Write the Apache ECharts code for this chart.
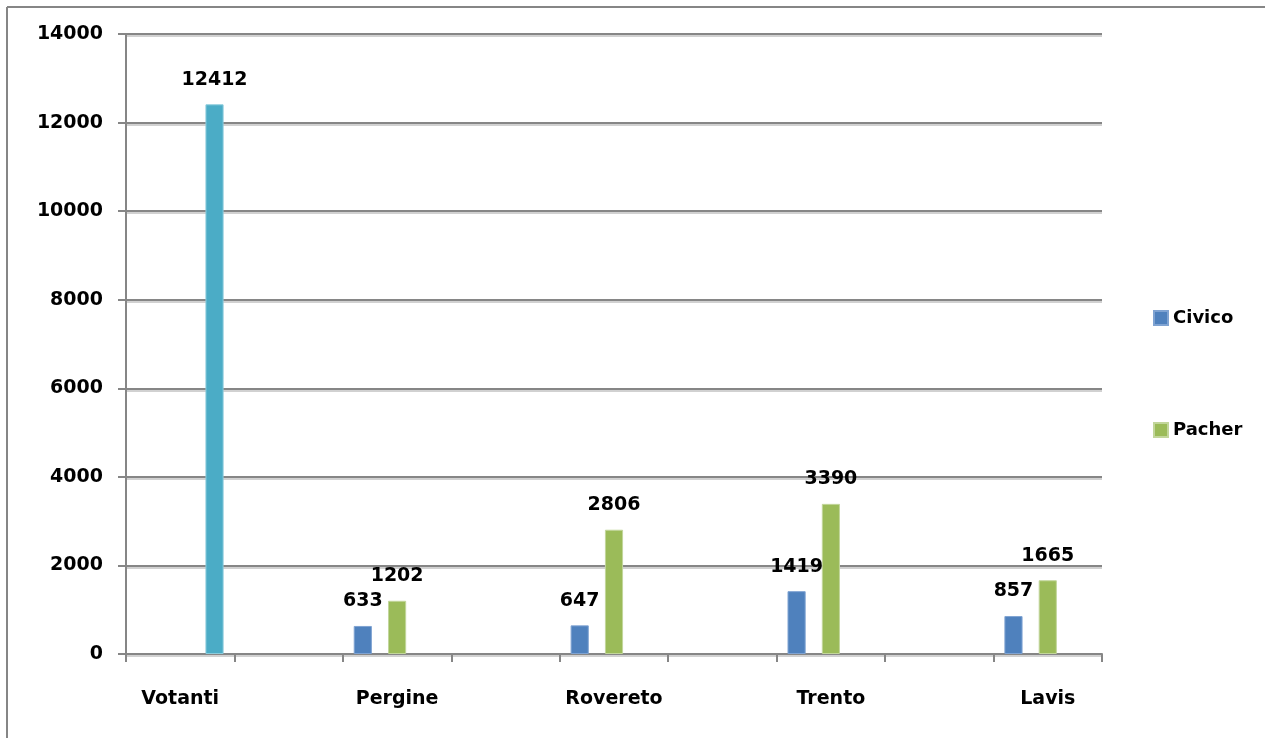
<!DOCTYPE html>
<html>
<head>
<meta charset="utf-8">
<script src="https://cdn.jsdelivr.net/npm/echarts@6/dist/echarts.min.js"></script>
<style>
html,body{margin:0;padding:0;background:#fff;}
#chart{width:1265px;height:738px;}
</style>
</head>
<body>
<div id="chart"></div>
<script>
const categories = ['Votanti', '', 'Pergine', '', 'Rovereto', '', 'Trento', '', 'Lavis'];
const civico  = [null, null, 633, null, 647, null, 1419, null, 857];
const pacher  = [null, null, 1202, null, 2806, null, 3390, null, 1665];
const votanti = [12412, null, null, null, null, null, null, null, null];
const yTicks = [0, 2000, 4000, 6000, 8000, 10000, 12000, 14000];

const FONT = '"DejaVu Sans", sans-serif';
const GRAY = '#868686';

const labelStyle = {
  show: true, position: 'top', distance: 15,
  color: '#000', fontFamily: FONT, fontWeight: 'bold', fontSize: 19
};

const chart = echarts.init(document.getElementById('chart'));
chart.setOption({
  animation: false,
  backgroundColor: '#fff',
  graphic: [
    { type: 'line', shape: { x1: 7, y1: 7, x2: 1265, y2: 7 }, style: { stroke: GRAY, lineWidth: 2 } },
    { type: 'line', shape: { x1: 7, y1: 7, x2: 7, y2: 738 }, style: { stroke: GRAY, lineWidth: 2 } }
  ],
  grid: { left: 126, right: 163, top: 34, bottom: 84, containLabel: false },
  legend: {
    data: ['Civico', 'Pacher'],
    orient: 'vertical',
    left: 1148, top: 304,
    itemWidth: 14, itemHeight: 14, itemGap: 94,
    icon: 'rect',
    textStyle: { color: '#000', fontFamily: FONT, fontWeight: 'bold', fontSize: 18 }
  },
  xAxis: {
    type: 'category',
    data: categories,
    boundaryGap: true,
    axisLine: { show: true, lineStyle: { color: GRAY, width: 2 } },
    axisTick: { show: true, length: 8, interval: 0, lineStyle: { color: GRAY, width: 2 } },
    axisLabel: { interval: 0, margin: 36, color: '#000', fontFamily: FONT, fontWeight: 'bold', fontSize: 19 },
    splitLine: { show: false }
  },
  yAxis: {
    type: 'value',
    min: yTicks[0], max: yTicks[yTicks.length - 1], interval: 2000,
    axisLine: { show: true, lineStyle: { color: GRAY, width: 2 } },
    axisTick: { show: true, length: 8, lineStyle: { color: GRAY, width: 2 } },
    axisLabel: { margin: 23, color: '#000', fontFamily: FONT, fontWeight: 'bold', fontSize: 19,
                 formatter: function (v) { return String(v); } },
    splitLine: { show: true, lineStyle: { color: GRAY, width: 2, shadowColor: 'rgba(0,0,0,0.18)', shadowOffsetY: 2, shadowBlur: 0 } }
  },
  series: [
    {
      name: 'Civico', type: 'bar', data: civico,
      barCategoryGap: '20%', barGap: '89%',
      itemStyle: { color: '#4F81BD', borderColor: '#7FA3D2', borderWidth: 1 },
      label: labelStyle
    },
    {
      name: 'Pacher', type: 'bar', data: pacher,
      barCategoryGap: '20%', barGap: '89%',
      itemStyle: { color: '#9BBB59', borderColor: '#C2D69B', borderWidth: 1 },
      label: labelStyle
    },
    {
      name: 'Votanti', type: 'bar', data: votanti,
      barCategoryGap: '20%', barGap: '89%',
      itemStyle: { color: '#4BACC6', borderColor: '#8CCCDC', borderWidth: 1 },
      label: labelStyle
    }
  ]
});
</script>
</body>
</html>
